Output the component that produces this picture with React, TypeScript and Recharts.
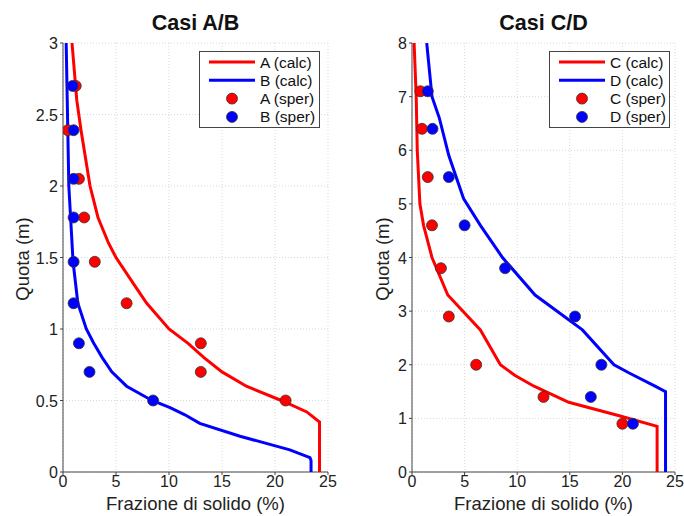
import { ScatterChart, Scatter, XAxis, YAxis, CartesianGrid } from "recharts"

// --- Casi A/B ---
const quotaAB = [2.7, 2.39, 2.05, 1.78, 1.47, 1.18, 0.9, 0.7, 0.5]
const aSper = [1.2, 0.45, 1.5, 2.0, 3.0, 6.0, 13, 13, 21]
const bSper = [0.9, 1.0, 1.0, 1.0, 1.0, 1.0, 1.5, 2.5, 8.5]

const aCalcQuota = [3, 2.6, 2.39, 2.0, 1.78, 1.6, 1.5, 1.3, 1.18, 1.0, 0.9, 0.8, 0.7, 0.6, 0.5, 0.42, 0.35, 0]
const aCalcFraz = [0.85, 1.3, 1.7, 2.55, 3.3, 4.3, 5.0, 6.8, 7.9, 10.0, 11.8, 13.3, 15, 17.3, 20.6, 23, 24.2, 24.2]
const bCalcQuota = [3, 2.6, 2.0, 1.47, 1.18, 1.0, 0.9, 0.8, 0.7, 0.6, 0.5, 0.45, 0.4, 0.34, 0.25, 0.155, 0.1, 0.08, 0]
const bCalcFraz = [0.3, 0.4, 0.55, 0.95, 1.4, 2.2, 2.9, 3.7, 4.6, 6.0, 8.4, 10.1, 11.5, 12.9, 16.7, 21.4, 23.3, 23.4, 23.4]

// --- Casi C/D ---
const quotaCD = [7.1, 6.4, 5.5, 4.6, 3.8, 2.9, 2.0, 1.4, 0.9]
const cSper = [0.8, 0.95, 1.5, 1.9, 2.75, 3.5, 6.1, 12.5, 20]
const dSper = [1.5, 1.95, 3.5, 5.0, 8.85, 15.5, 18, 17, 21]

const cCalcQuota = [8, 7, 6, 5, 4.6, 4, 3.3, 2.65, 2.0, 1.8, 1.6, 1.3, 1.05, 0.85, 0]
const cCalcFraz = [0.2, 0.4, 0.5, 0.75, 1.1, 1.9, 3.4, 6.5, 8.4, 9.8, 11.6, 14.9, 19.7, 23.3, 23.3]
const dCalcQuota = [8, 7, 6.6, 5.9, 5.1, 4.6, 4, 3.3, 2.65, 2.0, 1.85, 1.6, 1.5, 0]
const dCalcFraz = [1.4, 1.9, 2.6, 3.5, 4.9, 6.5, 8.6, 11.7, 16.2, 19.2, 20.6, 23.1, 24.1, 24.1]

const xTicks = [0, 5, 10, 15, 20, 25]
const yTicksAB = [0, 0.5, 1, 1.5, 2, 2.5, 3]
const yTicksCD = [0, 1, 2, 3, 4, 5, 6, 7, 8]

const RED = "#ff0000"
const BLUE = "#0000ff"
const FONT = "Arial, 'Liberation Sans', sans-serif"

const zip = (xs: number[], ys: number[]) => xs.map((x, i) => ({ x, y: ys[i] }))

const Dot = (props: any) => (
    <circle cx={props.cx} cy={props.cy} r={5.5} fill={props.fill} stroke="#333" strokeWidth={0.8} />
)

const XTick = (props: any) => (
    <text x={props.x} y={props.y} dy={10} textAnchor="middle" fontSize={16} fill="#222" fontFamily={FONT}>
        {props.payload.value}
    </text>
)

const YTick = (props: any) => (
    <text x={props.x} y={props.y} dy={6} dx={0} textAnchor="end" fontSize={16} fill="#222" fontFamily={FONT}>
        {props.payload.value}
    </text>
)

function LegendBox({ names }: { names: string[] }) {
    const colors = [RED, BLUE, RED, BLUE]
    return (
        <svg width={121} height={77} style={{ display: "block" }}>
            <rect x={0.5} y={0.5} width={120} height={76} fill="#fff" stroke="#444" strokeWidth={1} />
            {names.map((n, i) => {
                const cy = 11 + i * 18.3
                return (
                    <g key={n}>
                        {i < 2 ? (
                            <line x1={10} x2={56} y1={cy} y2={cy} stroke={colors[i]} strokeWidth={3} />
                        ) : (
                            <circle cx={33} cy={cy} r={5.5} fill={colors[i]} stroke="#333" strokeWidth={0.8} />
                        )}
                        <text x={61} y={cy + 5.5} fontSize={15.5} fill="#111" fontFamily={FONT}>{n}</text>
                    </g>
                )
            })}
        </svg>
    )
}

type PanelProps = {
    left: number
    title: string
    plotLeft: number
    plotRight: number
    legendRight: number
    yTicks: number[]
    yMax: number
    labelX: number
    calc: { x: number; y: number }[][]
    sper: { x: number; y: number }[][]
    names: string[]
}

function Panel(p: PanelProps) {
    const W = 342
    const H = 516
    const top = 43
    const bottom = 472
    const cx = (p.plotLeft + p.plotRight) / 2
    return (
        <div style={{ position: "absolute", left: p.left, top: 0, width: W, height: H, fontFamily: FONT }}>
            <ScatterChart
                width={W}
                height={H}
                margin={{ top, right: W - p.plotRight, bottom: H - bottom - 30, left: p.plotLeft - 40 }}
                style={{ overflow: "visible" }}
            >
                <CartesianGrid stroke="#d8d8d8" strokeDasharray="1 2" />
                <XAxis
                    type="number"
                    dataKey="x"
                    domain={[0, 25]}
                    ticks={xTicks}
                    height={30}
                    tickSize={3}
                    stroke="#444"
                    tick={XTick}
                    allowDataOverflow
                />
                <YAxis
                    type="number"
                    dataKey="y"
                    domain={[0, p.yMax]}
                    ticks={p.yTicks}
                    width={40}
                    tickSize={3}
                    stroke="#444"
                    tick={YTick}
                    allowDataOverflow
                />
                <Scatter data={p.calc[0]} fill={RED} line={{ stroke: RED, strokeWidth: 3 }} shape={() => <g />} isAnimationActive={false} />
                <Scatter data={p.calc[1]} fill={BLUE} line={{ stroke: BLUE, strokeWidth: 3 }} shape={() => <g />} isAnimationActive={false} />
                <Scatter data={p.sper[0]} fill={RED} shape={Dot} isAnimationActive={false} />
                <Scatter data={p.sper[1]} fill={BLUE} shape={Dot} isAnimationActive={false} />
            </ScatterChart>
            <div style={{ position: "absolute", left: p.legendRight - 121, top: 51 }}>
                <LegendBox names={p.names} />
            </div>
            <div style={{ position: "absolute", left: cx - 100, width: 200, top: 11, lineHeight: "25px", textAlign: "center", fontSize: 21.5, fontWeight: "bold", color: "#111" }}>
                {p.title}
            </div>
            <div style={{ position: "absolute", left: cx - 130, width: 260, top: 493, lineHeight: "22px", textAlign: "center", fontSize: 18.5, color: "#222" }}>
                Frazione di solido (%)
            </div>
            <div
                style={{
                    position: "absolute", left: p.labelX - 60, top: 258.5 - 11, width: 120, height: 22, lineHeight: "22px",
                    textAlign: "center", fontSize: 18.5, color: "#222", transform: "rotate(-90deg)",
                }}
            >
                Quota (m)
            </div>
        </div>
    )
}

export default function App() {
    return (
        <div style={{ position: "absolute", left: 0, top: 0, width: 684, height: 516, background: "#fff", overflow: "hidden" }}>
            <Panel
                left={0}
                title="Casi A/B"
                plotLeft={63}
                plotRight={328}
                legendRight={320}
                yTicks={yTicksAB}
                yMax={3}
                labelX={22.5}
                calc={[zip(aCalcFraz, aCalcQuota), zip(bCalcFraz, bCalcQuota)]}
                sper={[zip(aSper, quotaAB), zip(bSper, quotaAB)]}
                names={["A (calc)", "B (calc)", "A (sper)", "B (sper)"]}
            />
            <Panel
                left={342}
                title="Casi C/D"
                plotLeft={70}
                plotRight={333}
                legendRight={328}
                yTicks={yTicksCD}
                yMax={8}
                labelX={41}
                calc={[zip(cCalcFraz, cCalcQuota), zip(dCalcFraz, dCalcQuota)]}
                sper={[zip(cSper, quotaCD), zip(dSper, quotaCD)]}
                names={["C (calc)", "D (calc)", "C (sper)", "D (sper)"]}
            />
        </div>
    )
}
